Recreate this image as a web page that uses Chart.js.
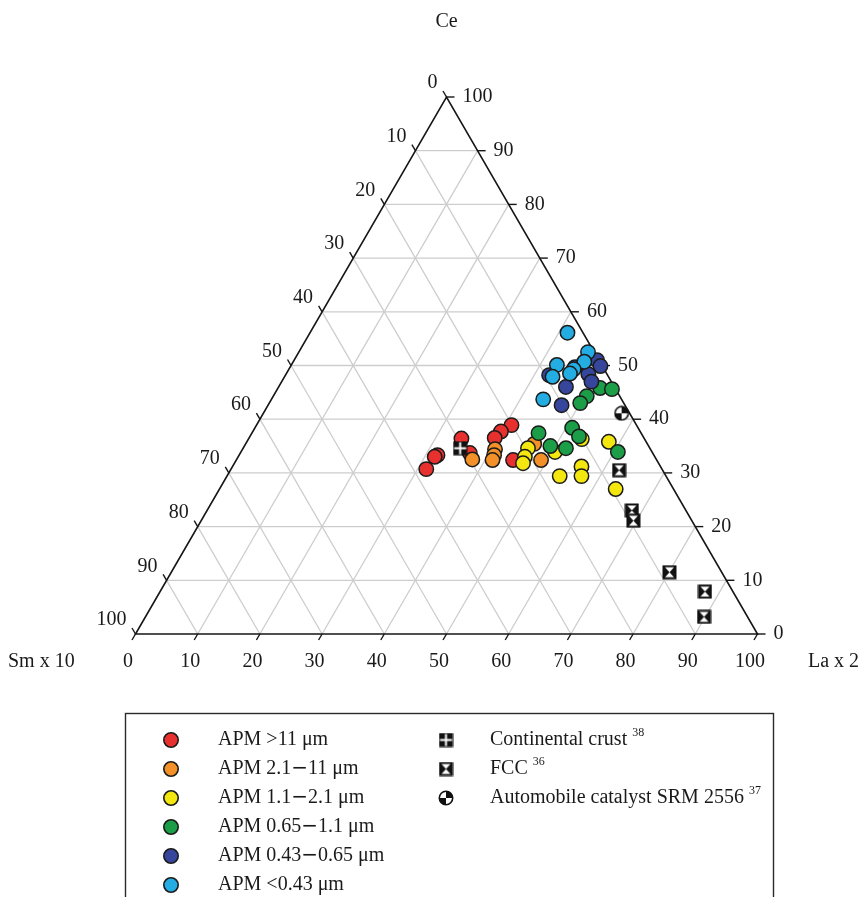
<!DOCTYPE html>
<html>
<head>
<meta charset="utf-8">
<script src="https://cdn.jsdelivr.net/npm/chart.js@4.4.1/dist/chart.umd.min.js"></script>
<style>
  html, body { margin: 0; padding: 0; background: #fff; }
  canvas { display: block; }
</style>
</head>
<body>
<canvas id="ternary" width="863" height="897"></canvas>
<script>
// Axis labelling
const tickValues = [0, 10, 20, 30, 40, 50, 60, 70, 80, 90, 100];
const topTitle = 'Ce';
const leftTitle = 'Sm x 10';
const rightTitle = 'La x 2';

// Compositions in percent of (Ce + La×2 + Sm×10)
const apmAbove11Ce = [38.9, 37.7, 36.5, 36.4, 33.7, 33.3, 33.0, 30.7, 32.4];
const apmAbove11La = [41.0, 39.9, 39.5, 34.2, 36.9, 31.9, 31.6, 31.4, 44.5];
const apmAbove11Sm = [20.1, 22.4, 24.0, 29.4, 29.4, 34.8, 35.4, 37.9, 23.1];

const apm2to11Ce = [34.4, 33.3, 32.4, 32.5, 35.4, 32.4];
const apm2to11La = [40.6, 41.0, 41.2, 37.9, 46.4, 49.0];
const apm2to11Sm = [25.0, 25.7, 26.4, 29.6, 18.2, 18.6];

const apm1to2Ce = [34.6, 33.0, 31.8, 33.9, 36.3, 35.8, 31.2, 29.4, 29.4, 27.0];
const apm1to2La = [45.8, 46.1, 46.4, 50.5, 53.6, 58.2, 56.1, 57.0, 53.5, 63.7];
const apm1to2Sm = [19.6, 20.9, 21.8, 15.6, 10.1, 6.0, 12.7, 13.6, 17.1, 9.3];

const apm065to1Ce = [37.4, 35.0, 34.6, 38.4, 36.8, 33.9, 45.8, 45.6, 44.3, 43.0];
const apm065to1La = [46.1, 49.2, 51.9, 51.0, 52.9, 60.6, 51.8, 53.8, 50.4, 50.0];
const apm065to1Sm = [16.5, 15.8, 13.5, 10.6, 10.3, 5.5, 2.4, 0.6, 5.3, 7.0];

const apm043to065Ce = [51.0, 49.9, 49.7, 48.2, 48.4, 47.0, 46.0, 42.6];
const apm043to065La = [48.7, 49.8, 45.8, 42.4, 48.6, 49.8, 46.2, 47.2];
const apm043to065Sm = [0.3, 0.3, 4.5, 9.4, 3.0, 3.2, 7.8, 10.2];

const apmBelow043Ce = [56.1, 52.5, 50.7, 50.1, 49.3, 48.5, 47.9, 43.7];
const apmBelow043La = [41.4, 46.5, 46.8, 42.7, 45.8, 45.6, 43.1, 43.7];
const apmBelow043Sm = [2.5, 1.0, 2.5, 7.2, 4.9, 5.9, 9.0, 12.6];

const crustCe = [34.6];
const crustLa = [34.9];
const crustSm = [30.5];

const fccCe = [30.5, 23.0, 21.1, 11.5, 7.9, 3.2];
const fccLa = [62.5, 68.3, 69.5, 80.1, 87.6, 89.8];
const fccSm = [7.0, 8.7, 9.4, 8.4, 4.5, 7.0];

const catalystCe = [41.1];
const catalystLa = [57.6];
const catalystSm = [1.3];

const seriesLabels = [
  'APM >11 μm', 'APM 2.1\u221211 μm', 'APM 1.1\u22122.1 μm',
  'APM 0.65\u22121.1 μm', 'APM 0.43\u22120.65 μm', 'APM <0.43 μm'
];
const referenceLabels = ['Continental crust', 'FCC', 'Automobile catalyst SRM 2556'];
const referenceNotes = ['38', '36', '37'];

// Ternary composition -> cartesian value space (x: 0..100 along base, y: Ce)
function toPlane(ce, la, sm) {
  return ce.map((c, i) => {
    const s = c + la[i] + sm[i];
    const cn = c / s * 100;
    const ln = la[i] / s * 100;
    return { x: ln + cn / 2, y: cn };
  });
}

// Marker glyphs for the reference materials
function makeGlyph(size, draw) {
  const cv = document.createElement('canvas');
  cv.width = size; cv.height = size;
  draw(cv.getContext('2d'), size);
  return cv;
}
const crustGlyph = makeGlyph(15, (g, s) => {
  g.fillStyle = '#111';
  g.fillRect(0.5, 0.5, s - 1, s - 1);
  g.fillStyle = '#fff';
  g.fillRect(6.5, 1.5, 2, s - 3);
  g.fillRect(1.5, 6.5, s - 3, 2);
});
const fccGlyph = makeGlyph(15, (g, s) => {
  g.fillStyle = '#111';
  g.fillRect(0.5, 0.5, s - 1, s - 1);
  g.fillStyle = '#fff';
  g.beginPath();
  g.moveTo(3, 2.5); g.lineTo(s - 3, 2.5); g.lineTo(s / 2, s / 2); g.closePath();
  g.moveTo(3, s - 2.5); g.lineTo(s - 3, s - 2.5); g.lineTo(s / 2, s / 2); g.closePath();
  g.fill();
});
const catalystGlyph = makeGlyph(16, (g, s) => {
  const c = s / 2, r = s / 2 - 1;
  g.fillStyle = '#fff';
  g.beginPath(); g.arc(c, c, r, 0, Math.PI * 2); g.fill();
  g.fillStyle = '#111';
  g.beginPath(); g.moveTo(c, c); g.arc(c, c, r, -Math.PI / 2, 0); g.closePath(); g.fill();
  g.beginPath(); g.moveTo(c, c); g.arc(c, c, r, Math.PI / 2, Math.PI); g.closePath(); g.fill();
  g.strokeStyle = '#111'; g.lineWidth = 1.6;
  g.beginPath(); g.arc(c, c, r - 0.3, 0, Math.PI * 2); g.stroke();
});

const circleColors = ['#e8312f', '#f39128', '#f3e70f', '#1c9d47', '#36469c', '#23ade3'];
const circleData = [
  toPlane(apmAbove11Ce, apmAbove11La, apmAbove11Sm),
  toPlane(apm2to11Ce, apm2to11La, apm2to11Sm),
  toPlane(apm1to2Ce, apm1to2La, apm1to2Sm),
  toPlane(apm065to1Ce, apm065to1La, apm065to1Sm),
  toPlane(apm043to065Ce, apm043to065La, apm043to065Sm),
  toPlane(apmBelow043Ce, apmBelow043La, apmBelow043Sm)
];
const drawOrder = [6, 5, 4, 3, 2, 1];

const datasets = circleData.map((pts, i) => ({
  label: seriesLabels[i],
  data: pts,
  pointStyle: 'circle',
  pointRadius: 7.2,
  pointHoverRadius: 7.2,
  backgroundColor: circleColors[i],
  borderColor: '#1b1b1b',
  borderWidth: 1.5,
  order: drawOrder[i],
  clip: false
}));
[[crustCe, crustLa, crustSm, crustGlyph], [fccCe, fccLa, fccSm, fccGlyph],
 [catalystCe, catalystLa, catalystSm, catalystGlyph]].forEach((r, i) => {
  datasets.push({
    label: referenceLabels[i],
    data: toPlane(r[0], r[1], r[2]),
    pointStyle: r[3],
    pointRadius: 7,
    backgroundColor: '#111',
    borderColor: '#111',
    order: 0,
    clip: false
  });
});

const SERIF = '"Liberation Serif", "Times New Roman", serif';
const FONT = '20px ' + SERIF;
const DASH_FONT = '20px "DejaVu Sans", sans-serif';

// Draws a label whose range dash is set in a wider sans face
function drawRangeLabel(ctx, text, x, y) {
  const parts = text.split('\u2212');
  let cx = x;
  parts.forEach((part, i) => {
    if (i > 0) {
      ctx.font = DASH_FONT;
      ctx.fillText('\u2212', cx, y);
      cx += ctx.measureText('\u2212').width;
    }
    ctx.font = FONT;
    ctx.fillText(part, cx, y);
    cx += ctx.measureText(part).width;
  });
}

const ternaryFrame = {
  id: 'ternaryFrame',
  beforeDatasetsDraw(chart) {
    const { ctx, scales: { x, y } } = chart;
    const P = (ce, la) => [x.getPixelForValue(la + ce / 2), y.getPixelForValue(ce)];
    const seg = (a, b) => { ctx.beginPath(); ctx.moveTo(a[0], a[1]); ctx.lineTo(b[0], b[1]); ctx.stroke(); };
    ctx.save();
    // inner grid
    ctx.strokeStyle = '#cdcdcd';
    ctx.lineWidth = 1.3;
    tickValues.filter(v => v > 0 && v < 100).forEach(k => {
      seg(P(k, 0), P(k, 100 - k));          // constant Ce
      seg(P(0, k), P(100 - k, k));          // constant La
      seg(P(0, 100 - k), P(100 - k, 0));    // constant Sm
    });
    // outline
    ctx.strokeStyle = '#161616';
    ctx.lineWidth = 1.6;
    ctx.beginPath();
    const a = P(0, 0), b = P(0, 100), c = P(100, 0);
    ctx.moveTo(a[0], a[1]); ctx.lineTo(b[0], b[1]); ctx.lineTo(c[0], c[1]); ctx.closePath();
    ctx.stroke();
    // ticks
    ctx.lineWidth = 1.4;
    tickValues.forEach(v => {
      const r = P(v, 100 - v); seg(r, [r[0] + 8, r[1]]);
      const bt = P(0, v); seg(bt, [bt[0] - 3.5, bt[1] + 6]);
      const l = P(100 - v, 0); seg(l, [l[0] - 3.5, l[1] - 6]);
    });
    // tick labels
    ctx.fillStyle = '#1a1a1a';
    ctx.font = FONT;
    ctx.textBaseline = 'middle';
    tickValues.forEach(v => {
      const r = P(v, 100 - v);
      ctx.textAlign = 'left';
      ctx.fillText(String(v), r[0] + 16, r[1]);
      const bt = P(0, v);
      ctx.textAlign = 'center';
      ctx.fillText(String(v), bt[0] - 7.5, 662);
      const l = P(100 - v, 0);
      ctx.textAlign = 'right';
      ctx.fillText(String(v), l[0] - 9, l[1] - 14);
    });
    // axis titles
    ctx.textAlign = 'center';
    ctx.fillText(topTitle, P(100, 0)[0], 22);
    ctx.textAlign = 'left';
    ctx.fillText(leftTitle, 8, 662);
    ctx.fillText(rightTitle, 808, 662);
    ctx.restore();
  },
  afterDraw(chart) {
    const ctx = chart.ctx;
    ctx.save();
    // legend frame
    ctx.strokeStyle = '#2a2a2a';
    ctx.lineWidth = 1.4;
    ctx.strokeRect(125.5, 713.5, 648, 220);
    ctx.textBaseline = 'middle';
    ctx.textAlign = 'left';
    const rowY = i => 740 + 29 * i;
    seriesLabels.forEach((lab, i) => {
      const yy = rowY(i);
      ctx.beginPath();
      ctx.arc(171, yy, 7.2, 0, Math.PI * 2);
      ctx.fillStyle = circleColors[i];
      ctx.fill();
      ctx.strokeStyle = '#1b1b1b';
      ctx.lineWidth = 1.6;
      ctx.stroke();
      ctx.fillStyle = '#1a1a1a';
      drawRangeLabel(ctx, lab, 218, yy);
    });
    const glyphs = [crustGlyph, fccGlyph, catalystGlyph];
    referenceLabels.forEach((lab, i) => {
      const yy = rowY(i);
      const gl = glyphs[i];
      ctx.drawImage(gl, 446 - gl.width / 2, yy - gl.height / 2);
      ctx.fillStyle = '#1a1a1a';
      ctx.font = FONT;
      ctx.fillText(lab, 490, yy);
      const w = ctx.measureText(lab + ' ').width;
      ctx.font = '12px ' + SERIF;
      ctx.fillText(referenceNotes[i], 490 + w, yy - 7);
    });
    ctx.restore();
  }
};

new Chart(document.getElementById('ternary'), {
  type: 'scatter',
  data: { datasets },
  options: {
    responsive: false,
    animation: false,
    events: [],
    layout: { padding: { left: 135.5, right: 105.5, top: 97, bottom: 263 } },
    scales: {
      x: { type: 'linear', min: 0, max: 100, display: false },
      y: { type: 'linear', min: 0, max: 100, display: false }
    },
    plugins: { legend: { display: false }, tooltip: { enabled: false } }
  },
  plugins: [ternaryFrame]
});
</script>
</body>
</html>
